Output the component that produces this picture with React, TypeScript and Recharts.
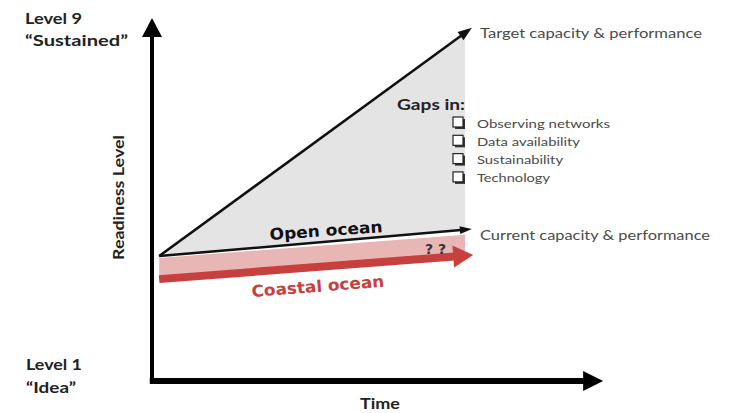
import React from "react";
import { ComposedChart, Area, XAxis, YAxis, ReferenceLine } from "recharts";

// time (t) on 0..100, readiness level on 0..100 (Level 1 -> Level 9)
const start = { t: 1.6, level: 34.7 };
const targetEnd = { t: 71.4, level: 98.1 };
const openEnd = { t: 71.4, level: 42.2 };
const coastalStart = { t: 1.6, level: 28.3 };
const coastalEnd = { t: 71.7, level: 35.0 };

// shaded gap between target and open-ocean path
const gapData = [
  { t: 1.6, range: [34.7, 34.7] },
  { t: 69.9, range: [42.1, 96.6] },
];

// pink band under the open ocean line
const coastalBand = [
  { t: 1.6, range: [28.3, 34.2] },
  { t: 69.9, range: [34.8, 40.6] },
];

const gapItems = ["Observing networks", "Data availability", "Sustainability", "Technology"];

const arrow = (color: string, width: number, headLen: number, headW: number) => (p: any) => {
  const { x1, y1, x2, y2 } = p;
  const dx = x2 - x1;
  const dy = y2 - y1;
  const len = Math.sqrt(dx * dx + dy * dy) || 1;
  const ux = dx / len;
  const uy = dy / len;
  const bx = x2 - ux * headLen;
  const by = y2 - uy * headLen;
  const nx = -uy * (headW / 2);
  const ny = ux * (headW / 2);
  return (
    <g>
      <line x1={x1} y1={y1} x2={bx + ux} y2={by + uy} stroke={color} strokeWidth={width} />
      <polygon points={`${x2},${y2} ${bx + nx},${by + ny} ${bx - nx},${by - ny}`} fill={color} />
    </g>
  );
};

const small = { fontFamily: "Lato, sans-serif", fontSize: 13, fill: "#4a4a4a" };

export default function App() {
  return (
    <div style={{ position: "absolute", left: 0, top: 0, width: 729, height: 413, background: "#fff" }}>
      <ComposedChart width={729} height={413} margin={{ top: 21, right: 129, bottom: 32, left: 152 }}>
        <XAxis type="number" dataKey="t" domain={[0, 100]} allowDataOverflow hide />
        <YAxis type="number" domain={[0, 100]} allowDataOverflow hide />
        <Area data={gapData} dataKey="range" type="linear" stroke="none" fill="#e4e4e4" fillOpacity={1} isAnimationActive={false} />
        <Area data={coastalBand} dataKey="range" type="linear" stroke="none" fill="#e9b6b6" fillOpacity={1} isAnimationActive={false} />
        <ReferenceLine
          segment={[{ x: coastalStart.t, y: coastalStart.level }, { x: coastalEnd.t, y: coastalEnd.level }]}
          ifOverflow="visible"
          shape={arrow("#c8403e", 8, 20, 22)}
        />
        <ReferenceLine
          segment={[{ x: start.t, y: start.level }, { x: targetEnd.t, y: targetEnd.level }]}
          ifOverflow="visible"
          shape={arrow("#111", 2.5, 14, 10)}
        />
        <ReferenceLine
          segment={[{ x: start.t, y: start.level }, { x: openEnd.t, y: openEnd.level }]}
          ifOverflow="visible"
          shape={arrow("#111", 2.5, 12, 8)}
        />
        <ReferenceLine
          segment={[{ x: 0, y: -0.8 }, { x: 0, y: 100.8 }]}
          ifOverflow="visible"
          shape={arrow("#000", 4, 19, 20)}
        />
        <ReferenceLine
          segment={[{ x: -0.5, y: 0 }, { x: 100.7, y: 0 }]}
          ifOverflow="visible"
          shape={arrow("#000", 6, 20, 20)}
        />
      </ComposedChart>
      <svg width={729} height={413} style={{ position: "absolute", left: 0, top: 0, pointerEvents: "none" }}>
        <g fontFamily="Lato, sans-serif" fontWeight={700} fill="#222">
          <text x={25} y={24} fontSize={16} textLength={57} lengthAdjust="spacingAndGlyphs">Level 9</text>
          <text x={25} y={46} fontSize={16} textLength={103} lengthAdjust="spacingAndGlyphs">“Sustained”</text>
          <text x={26} y={370} fontSize={16} textLength={56} lengthAdjust="spacingAndGlyphs">Level 1</text>
          <text x={26} y={393} fontSize={16} textLength={50} lengthAdjust="spacingAndGlyphs">“Idea”</text>
          <text x={360} y={409} fontSize={15} textLength={40} lengthAdjust="spacingAndGlyphs">Time</text>
          <text transform="translate(124,260) rotate(-90)" fontSize={15} textLength={125} lengthAdjust="spacingAndGlyphs">Readiness Level</text>
          <text x={397} y={110} fontSize={15} textLength={68} lengthAdjust="spacingAndGlyphs">Gaps in:</text>
        </g>
        <text x={480} y={38} {...small} textLength={222} lengthAdjust="spacingAndGlyphs">Target capacity &amp; performance</text>
        <text x={480} y={240} {...small} textLength={230} lengthAdjust="spacingAndGlyphs">Current capacity &amp; performance</text>
        {gapItems.map((s, i) => {
          const cy = 123 + i * 18.3;
          const ends = [610, 580, 563, 550];
          return (
            <g key={s}>
              <rect x={455} y={cy - 4} width={10} height={10} fill="#333" />
              <rect x={453} y={cy - 6} width={10} height={10} fill="#fff" stroke="#222" strokeWidth={1.2} />
              <text x={477} y={cy + 4.5} {...small} fontSize={12} textLength={ends[i] - 477} lengthAdjust="spacingAndGlyphs">{s}</text>
            </g>
          );
        })}
        <text transform="translate(270,240) rotate(-4)" fontFamily="'DejaVu Sans', sans-serif" fontWeight={700} fontSize={16} fill="#111" textLength={113} lengthAdjust="spacingAndGlyphs">Open ocean</text>
        <text transform="translate(252,297) rotate(-4.5)" fontFamily="'DejaVu Sans', sans-serif" fontWeight={700} fontSize={16} fill="#c8403e" textLength={133} lengthAdjust="spacingAndGlyphs">Coastal ocean</text>
        <text x={425} y={254} fontFamily="'DejaVu Sans', sans-serif" fontWeight={700} fontSize={14} fill="#333">? ?</text>
      </svg>
    </div>
  );
}
